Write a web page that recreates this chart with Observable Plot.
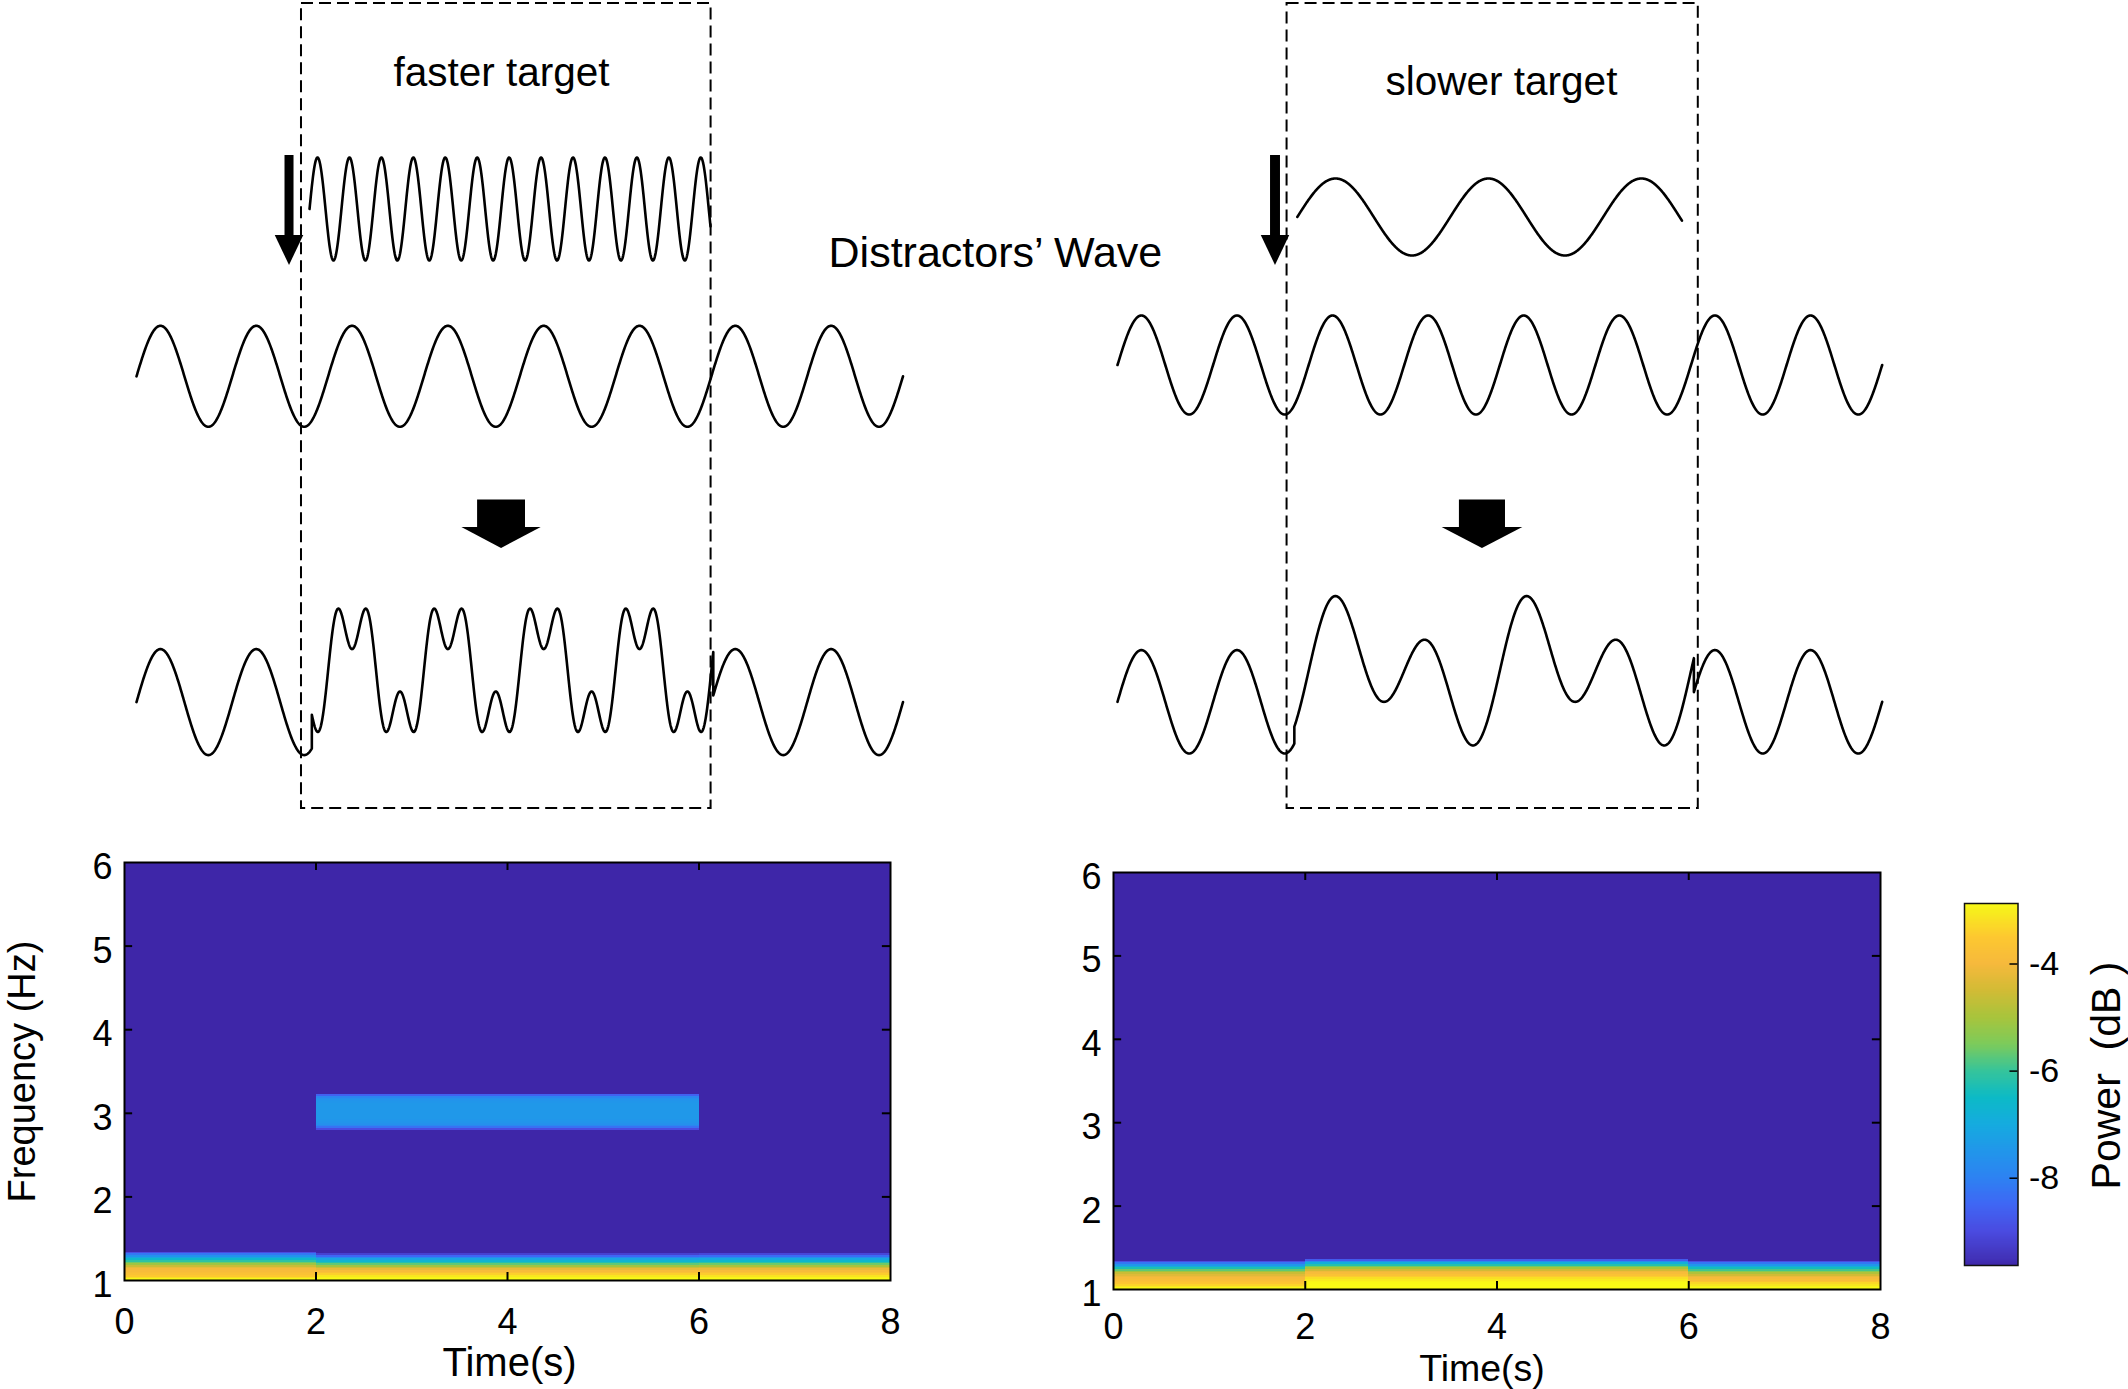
<!DOCTYPE html>
<html>
<head>
<meta charset="utf-8">
<script src="https://cdn.jsdelivr.net/npm/d3@7"></script>
<script src="https://cdn.jsdelivr.net/npm/@observablehq/plot@0.6"></script>
<style>
  html, body { margin: 0; padding: 0; background: #fff; }
  #fig { position: relative; width: 2128px; height: 1389px; overflow: hidden; background: #fff; }
  #fig .slot { position: absolute; }
</style>
</head>
<body>
<div id="fig"></div>
<script>
// ---------------- DATA ----------------
// wave parameters (Hz, seconds)
const waveDuration = 8;
const distractorHz = 1;
const fastTargetHz = 3;
const slowTargetHz = 0.625;
const slowMixHz = 0.5;
const mixGain = 0.6;
const fastTargetSpan = [1.806, 5.991];
const slowTargetSpan = [1.881, 5.905];
const fastMixSpan = [1.83, 6.02];
const slowMixSpan = [1.85, 6.03];
const fastBoxSpan = [1.722, 5.997];
const slowBoxSpan = [1.774, 6.076];

// spectrogram
const timeEdges = [0, 2, 6, 8];
const timeTicks = [0, 2, 4, 6, 8];
const freqTicks = [1, 2, 3, 4, 5, 6];
const bandFreqs = [1.00, 1.02, 1.04, 1.06, 1.08, 1.10, 1.12, 1.14, 1.16, 1.18, 1.20, 1.22, 1.24, 1.26, 1.28, 1.30, 1.32, 1.34, 1.36];
const leftPower0to2 = [-2.9, -3.2, -3.5, -3.7, -3.8, -3.9, -4.0, -4.2, -4.6, -5.1, -5.6, -6.1, -6.6, -7.1, -7.6, -8.2, -9.0, -9.63, -9.63];
const leftPower2to6 = [-2.87, -2.95, -3.1, -3.4, -3.7, -3.9, -4.2, -4.6, -5.1, -5.7, -6.2, -6.7, -7.2, -7.8, -8.5, -9.2, -9.63, -9.63, -9.63];
const leftPower6to8 = [-2.87, -2.95, -3.15, -3.45, -3.7, -3.9, -4.15, -4.5, -5.0, -5.6, -6.1, -6.6, -7.1, -7.7, -8.4, -9.1, -9.63, -9.63, -9.63];
const rightPower0to2 = [-2.9, -3.1, -3.35, -3.6, -3.75, -3.85, -3.95, -4.1, -4.3, -4.6, -5.1, -5.7, -6.3, -6.9, -7.5, -8.2, -9.0, -9.63, -9.63];
const rightPower2to6 = [-2.87, -2.87, -2.88, -2.9, -2.95, -3.05, -3.2, -3.45, -3.7, -3.9, -4.1, -4.5, -5.0, -5.6, -6.2, -6.9, -7.7, -8.7, -9.63];
const rightPower6to8 = [-2.87, -2.95, -3.1, -3.3, -3.6, -3.8, -3.95, -4.15, -4.5, -4.9, -5.4, -5.9, -6.4, -6.9, -7.5, -8.2, -9.0, -9.63, -9.63];
const targetFreqs = [2.80, 2.82, 2.84, 2.86, 2.88, 2.90, 2.92, 2.94, 2.96, 2.98, 3.00, 3.02, 3.04, 3.06, 3.08, 3.10, 3.12, 3.14, 3.16, 3.18, 3.20];
const targetPower = [-9.0, -8.3, -7.9, -7.65, -7.55, -7.5, -7.45, -7.45, -7.45, -7.45, -7.45, -7.45, -7.45, -7.45, -7.45, -7.45, -7.5, -7.55, -7.65, -7.9, -8.6];
const targetTimeSpan = [2, 6];
const rowHeight = 0.02;
const floorPower = -9.63;
const powerRange = [-9.63, -2.87];
const colorbarTicks = [-4, -6, -8];

// parula-like colormap
const colorDomain = [-9.63, -9.5, -9.0, -8.5, -8.0, -7.5, -7.0, -6.5, -6.0, -5.5, -5.0, -4.5, -4.0, -3.5, -3.0, -2.87];
const colorRange = ["#3e26a8", "#4232b8", "#4a4be0", "#3f66f4", "#2d82f2", "#2196ea", "#15abdf", "#0cbac6", "#36c49a", "#7dcb5a", "#a8c43c", "#d2bb35", "#f6b93c", "#fdc830", "#f7ef1c", "#f9fb15"];

// ---------------- LAYOUT ----------------
const FONT = '"Liberation Sans", Arial, Helvetica, sans-serif';
const fig = document.getElementById("fig");
function place(node, left, top) {
  const d = document.createElement("div");
  d.className = "slot";
  d.style.left = left + "px";
  d.style.top = top + "px";
  d.appendChild(node);
  fig.appendChild(d);
}
const baseStyle = {background: "transparent", overflow: "visible", fontFamily: FONT, color: "black"};

// ---------------- TOP SCHEMATICS ----------------
const step = 0.004;
function sample(t0, t1, fn) {
  const n = Math.max(1, Math.round((t1 - t0) / step));
  return d3.range(n + 1).map(i => { const t = t0 + (t1 - t0) * i / n; return {t, v: fn(t)}; });
}
const sinHz = (hz, t0 = 0) => t => Math.sin(2 * Math.PI * hz * (t - t0));

function mixWave(mixHz, span) {
  const d = sinHz(distractorHz);
  const m = t => d(t) + mixGain * (1 + Math.sin(2 * Math.PI * mixHz * t));
  return [
    ...sample(0, span[0], d),
    ...sample(span[0], span[1], m),
    ...sample(span[1], waveDuration, d)
  ];
}

function topPanel(cfg) {
  const toY = (row) => p => ({t: p.t, y: row[0] - row[1] * p.v});
  const target = sample(cfg.targetSpan[0], cfg.targetSpan[1], sinHz(cfg.targetHz, cfg.targetSpan[0])).map(toY(cfg.rows.target));
  const distractor = sample(0, waveDuration, sinHz(distractorHz)).map(toY(cfg.rows.distractor));
  const mix = mixWave(cfg.mixHz, cfg.mixSpan).map(toY(cfg.rows.mix));
  const lineOpts = {x: "t", y: "y", stroke: "black", strokeWidth: 2.6, strokeLinejoin: "round", strokeLinecap: "round"};
  const arrowMarks = (a) => [
    Plot.rect([a], {x1: d => d.c - d.shaft, x2: d => d.c + d.shaft, y1: d => d.top, y2: d => d.base + 0.5, fill: "black"}),
    Plot.areaY([
      {t: a.c - a.head, y1: a.base, y2: a.base},
      {t: a.c, y1: a.base, y2: a.tip},
      {t: a.c + a.head, y1: a.base, y2: a.base}
    ], {x: "t", y1: "y1", y2: "y2", fill: "black"})
  ];
  return Plot.plot({
    width: 1064, height: 820, margin: 0,
    x: {domain: [0, waveDuration], range: cfg.xRange, axis: null},
    y: {domain: [0, 820], range: [0, 820], axis: null},
    style: baseStyle,
    marks: [
      Plot.rect([cfg.box], {x1: d => d[0], x2: d => d[1], y1: 3, y2: 808, fill: "none", stroke: "black", strokeWidth: 2, strokeDasharray: "12,6"}),
      Plot.line(target, lineOpts),
      Plot.line(distractor, lineOpts),
      Plot.line(mix, lineOpts),
      ...arrowMarks(cfg.thinArrow),
      ...arrowMarks(cfg.thickArrow),
      ...cfg.labels.map(l => Plot.text([l], {x: "t", y: "y", text: "text", textAnchor: l.anchor, lineAnchor: "middle", fontSize: l.size, fill: "black"}))
    ]
  });
}

const topRight = topPanel({
  xRange: [53, 817.7],
  targetHz: slowTargetHz, targetSpan: slowTargetSpan,
  mixHz: slowMixHz, mixSpan: slowMixSpan,
  box: slowBoxSpan,
  rows: {target: [216.5, 38.5], distractor: [364.5, 49.5], mix: [701.3, 51.7]},
  thinArrow: {c: 1.653, shaft: 0.052, head: 0.149, top: 155, base: 235, tip: 265},
  thickArrow: {c: 3.818, shaft: 0.241, head: 0.422, top: 499.5, base: 527, tip: 548},
  labels: [{text: "slower target", t: 4.017, y: 82, anchor: "middle", size: 40.5}]
});
const topLeft = topPanel({
  xRange: [136, 902.5],
  targetHz: fastTargetHz, targetSpan: fastTargetSpan,
  mixHz: fastTargetHz, mixSpan: fastMixSpan,
  box: fastBoxSpan,
  rows: {target: [208.5, 51.5], distractor: [375.8, 50.5], mix: [701.6, 53]},
  thinArrow: {c: 1.597, shaft: 0.047, head: 0.149, top: 155, base: 235, tip: 265},
  thickArrow: {c: 3.81, shaft: 0.25, head: 0.414, top: 499.5, base: 527, tip: 548},
  labels: [
    {text: "faster target", t: 3.81, y: 73, anchor: "middle", size: 40.5},
    {text: "Distractors\u2019 Wave", t: 7.223, y: 252.5, anchor: "start", size: 43}
  ]
});
place(topRight, 1064, 0);
place(topLeft, 0, 0);

// ---------------- SPECTROGRAMS ----------------
const colorScale = {type: "linear", domain: colorDomain, range: colorRange, clamp: true};

function bandCells(segPowers) {
  const out = [];
  segPowers.forEach((powers, i) => {
    powers.forEach((p, j) => out.push({t1: timeEdges[i], t2: timeEdges[i + 1], f1: bandFreqs[j], f2: bandFreqs[j] + rowHeight, power: p}));
  });
  return out;
}
function targetCells() {
  return targetFreqs.map((f, j) => ({t1: targetTimeSpan[0], t2: targetTimeSpan[1], f1: f, f2: f + rowHeight, power: targetPower[j]}));
}

function spectro(cfg) {
  const cells = [{t1: 0, t2: 8, f1: 1, f2: 6, power: floorPower}, ...cfg.cells];
  const tx = 0.085, ty = 0.096;
  const tickOpts = {stroke: "black", strokeWidth: 2};
  return Plot.plot({
    width: cfg.width, height: 569,
    marginLeft: cfg.ml, marginRight: cfg.mr, marginTop: cfg.mt, marginBottom: cfg.mb,
    x: {domain: [0, 8]},
    y: {domain: [1, 6]},
    color: colorScale,
    style: {...baseStyle, fontSize: "36px"},
    marks: [
      Plot.rect(cells, {x1: "t1", x2: "t2", y1: "f1", y2: "f2", fill: "power", shapeRendering: "crispEdges"}),
      Plot.ruleX([2, 4, 6], {y1: 1, y2: 1 + ty, ...tickOpts}),
      Plot.ruleX([2, 4, 6], {y1: 6, y2: 6 - ty, ...tickOpts}),
      Plot.ruleY([2, 3, 4, 5], {x1: 0, x2: tx, ...tickOpts}),
      Plot.ruleY([2, 3, 4, 5], {x1: 8, x2: 8 - tx, ...tickOpts}),
      Plot.frame({stroke: "black", strokeWidth: 2}),
      Plot.axisX({ticks: timeTicks, tickSize: 0, tickPadding: cfg.tickPad, label: null, fontSize: 36, tickFormat: d => String(d)}),
      Plot.axisY({ticks: freqTicks, tickSize: 0, tickPadding: 12, label: null, fontSize: 36, dy: 5, tickFormat: d => String(d)}),
      Plot.text(["Time(s)"], {text: d => d, frameAnchor: "bottom", textAnchor: "middle", dy: cfg.timeDy, dx: cfg.timeDx, lineAnchor: "middle", fontSize: cfg.timeSize, fill: "black"}),
      ...(cfg.ylabel ? [Plot.text([cfg.ylabel], {text: d => d, frameAnchor: "left", textAnchor: "middle", dx: -102, rotate: -90, lineAnchor: "middle", fontSize: 38, fill: "black"})] : [])
    ]
  });
}

const specLeft = spectro({
  width: 1064, ml: 124, mr: 174, mt: 42, mb: 109,
  cells: [...bandCells([leftPower0to2, leftPower2to6, leftPower6to8]), ...targetCells()],
  tickPad: 28, timeDy: 83, timeDx: 2, timeSize: 40, ylabel: "Frequency (Hz)"
});
const specRight = spectro({
  width: 876, ml: 49, mr: 60, mt: 52, mb: 100,
  cells: bandCells([rightPower0to2, rightPower2to6, rightPower6to8]),
  tickPad: 24, timeDy: 79, timeDx: -15, timeSize: 37.5, ylabel: null
});
place(specLeft, 0, 820);
place(specRight, 1064, 820);

// ---------------- COLORBAR ----------------
const cbStep = 0.02;
const cbLevels = d3.range(powerRange[0], powerRange[1], cbStep);
const colorbar = Plot.plot({
  width: 188, height: 569,
  marginLeft: 24, marginRight: 110.5, marginTop: 83, marginBottom: 124,
  x: {domain: [0, 1], axis: null},
  y: {domain: powerRange},
  color: colorScale,
  style: {...baseStyle, fontSize: "34px"},
  marks: [
    Plot.rect(cbLevels, {x1: 0, x2: 1, y1: d => d, y2: d => Math.min(d + cbStep * 1.5, powerRange[1]), fill: d => d + cbStep / 2, shapeRendering: "crispEdges"}),
    Plot.ruleY(colorbarTicks, {x1: 0.85, x2: 1, stroke: "black", strokeWidth: 1.5}),
    Plot.frame({stroke: "#111", strokeWidth: 1.5}),
    Plot.axisY({anchor: "right", ticks: colorbarTicks, tickSize: 0, tickPadding: 11, label: null, fontSize: 34, tickFormat: d => String(d)}),
    Plot.text(["Power\u00a0\u00a0(dB\u00a0)"], {text: d => d, frameAnchor: "right", textAnchor: "middle", rotate: -90, dx: 89, dy: -9, lineAnchor: "middle", fontSize: 41, fill: "black"})
  ]
});
place(colorbar, 1940, 820);
</script>
</body>
</html>
